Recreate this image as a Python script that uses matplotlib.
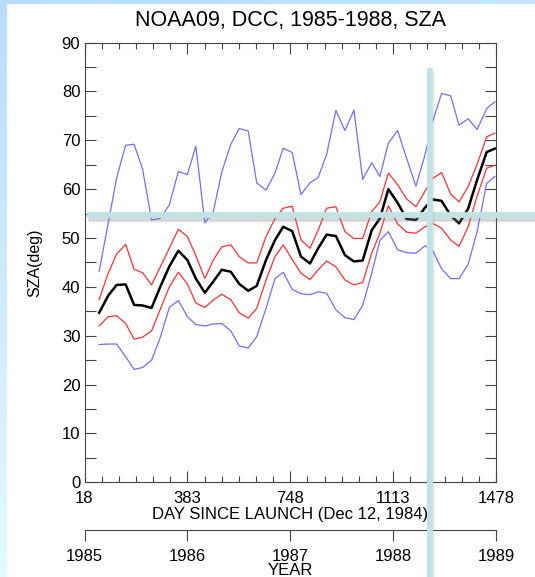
import numpy as np
import matplotlib
matplotlib.use("Agg")
import matplotlib.pyplot as plt
from matplotlib.ticker import AutoMinorLocator, MultipleLocator

plt.rcParams['font.family'] = ['Liberation Sans', 'DejaVu Sans']

# day since launch for each monthly point
days = [70, 102, 132, 164, 194, 224, 256, 286, 319, 351, 383, 413, 445, 475, 505,
        537, 567, 599, 629, 662, 694, 723, 755, 786, 818, 847, 877, 910, 942, 974,
        1005, 1037, 1066, 1096, 1129, 1161, 1194, 1226, 1253, 1285, 1317, 1347,
        1379, 1411, 1445, 1474]

# outer (blue) envelope, upper
blue_hi = [43.2, 53.0, 62.3, 69.0, 69.2, 64.1, 53.7, 54.0, 56.8, 63.6, 63.0, 68.8,
           53.1, 55.4, 63.5, 69.2, 72.4, 71.9, 61.3, 59.8, 63.3, 68.4, 67.5, 58.9,
           61.3, 62.4, 67.1, 76.1, 72.0, 76.2, 62.0, 65.4, 62.6, 69.4, 72.0, 66.3,
           60.6, 67.0, 73.8, 79.6, 79.1, 73.1, 74.4, 72.2, 76.5, 77.9]
# mean + std (red)
red_hi = [37.4, 42.8, 46.7, 48.7, 43.6, 42.9, 40.4, 44.0, 47.9, 51.8, 50.3, 46.4,
          41.7, 45.5, 48.2, 48.6, 46.2, 44.9, 44.9, 50.3, 54.0, 56.1, 56.5, 49.6,
          47.9, 51.6, 56.1, 56.4, 51.3, 49.9, 49.9, 55.4, 57.4, 63.3, 60.9, 58.0,
          56.4, 59.6, 62.2, 63.4, 59.0, 57.4, 60.5, 65.1, 70.7, 71.5]
# mean (black)
mean_sza = [34.7, 38.2, 40.4, 40.5, 36.3, 36.2, 35.7, 39.9, 44.2, 47.4, 45.5, 41.7,
            38.8, 41.1, 43.5, 43.1, 40.6, 39.2, 40.2, 45.5, 49.6, 52.3, 51.4, 46.2,
            44.8, 47.9, 50.7, 50.4, 46.5, 45.2, 45.4, 51.6, 54.0, 60.0, 57.2, 53.9,
            53.7, 56.2, 57.9, 57.6, 54.6, 53.0, 56.0, 61.9, 67.6, 68.3]
# mean - std (red)
red_lo = [32.0, 33.9, 34.1, 32.5, 29.3, 29.7, 31.0, 35.3, 40.0, 43.0, 40.6, 36.7,
          35.8, 37.3, 38.5, 37.4, 34.7, 33.6, 35.6, 41.4, 46.2, 48.6, 45.6, 42.8,
          41.5, 43.5, 45.3, 44.1, 41.4, 40.4, 40.9, 46.9, 51.0, 56.6, 52.9, 51.2,
          51.0, 52.3, 53.0, 52.0, 49.6, 48.3, 52.3, 58.6, 64.3, 64.9]
# outer (blue) envelope, lower
blue_lo = [28.2, 28.3, 28.3, 25.7, 23.1, 23.5, 25.0, 29.5, 35.8, 37.2, 33.9, 32.3,
           32.0, 32.4, 32.5, 31.0, 27.9, 27.5, 29.8, 35.6, 41.7, 43.0, 39.5, 38.6,
           38.4, 39.0, 38.7, 35.3, 33.7, 33.3, 36.2, 42.8, 49.5, 51.3, 47.6, 47.0,
           46.9, 48.4, 47.5, 43.7, 41.7, 41.7, 44.6, 51.3, 61.2, 62.6]

day_ticks = [18, 383, 748, 1113, 1478]
years = [1985, 1986, 1987, 1988, 1989]

W, H = 535, 577
fig = plt.figure(figsize=(W / 100, H / 100), dpi=100)
fig.patch.set_facecolor('white')

def rect(x0, y0, x1, y1):
    # pixel box (top-left origin) -> figure fraction
    return [x0 / W, 1 - y1 / H, (x1 - x0) / W, (y1 - y0) / H]

# slide background strips
bg = fig.add_axes([0, 0, 1, 1], zorder=-5)
bg.axis('off')
grad = np.linspace(0, 1, 256).reshape(-1, 1)
cmap = matplotlib.colors.LinearSegmentedColormap.from_list('bgc', ['#b9dcfd', '#e4faff'])
bg.imshow(grad, cmap=cmap, extent=[0, 7, H, 0], aspect='auto')
cmap2 = matplotlib.colors.LinearSegmentedColormap.from_list('t', ['#b9dcfd', '#c6e6ff'])
bg.imshow(np.linspace(0, 1, 256).reshape(1, -1), cmap=cmap2,
          extent=[0, W, 4, 0], aspect='auto')
bg.set_xlim(0, W)
bg.set_ylim(H, 0)

ax = fig.add_axes(rect(84.5, 42.6, 496, 482.3))
ax.plot(days, blue_hi, color='#6f6fff', lw=0.9)
ax.plot(days, red_hi, color='#ff3030', lw=0.9)
ax.plot(days, mean_sza, color='black', lw=1.8)
ax.plot(days, red_lo, color='#ff3030', lw=0.9)
ax.plot(days, blue_lo, color='#6f6fff', lw=0.9)

ax.set_xlim(18, 1478)
ax.set_ylim(0, 90)
ax.set_xticks(day_ticks)
ax.xaxis.set_minor_locator(AutoMinorLocator(6))
ax.yaxis.set_major_locator(MultipleLocator(10))
ax.yaxis.set_minor_locator(MultipleLocator(5))
ax.tick_params(which='both', direction='in', top=True, right=True,
               color='#444444', width=0.8, labelsize=12)
ax.tick_params(axis='x', which='major', length=8, pad=6.5)
ax.tick_params(axis='x', which='minor', length=4)
ax.tick_params(axis='y', which='both', length=8, pad=3)
for s in ax.spines.values():
    s.set_color('#444444')
    s.set_linewidth(0.8)
ax.set_xlabel('DAY SINCE LAUNCH (Dec 12, 1984)', fontsize=12, labelpad=0.5)
ax.set_ylabel('SZA(deg)', fontsize=11.5, labelpad=14)
ax.set_title('NOAA09, DCC, 1985-1988, SZA', fontsize=15.5, pad=12)

# year axis below
ax2 = fig.add_axes(rect(84.5, 530, 496, 532))
ax2.set_xlim(1985, 1989)
ax2.set_xticks(years)
ax2.set_yticks([])
for k in ['top', 'left', 'right']:
    ax2.spines[k].set_visible(False)
ax2.patch.set_alpha(0)
ax2.spines['bottom'].set_position(('axes', 1.0))
ax2.spines['bottom'].set_color('#444444')
ax2.spines['bottom'].set_linewidth(0.8)
ax2.tick_params(axis='x', direction='out', length=8, width=0.8, color='#444444',
                labelsize=12, pad=6)
ax2.set_xlabel('YEAR', fontsize=12, labelpad=-1)

# crosshair overlay
ov = fig.add_axes([0, 0, 1, 1], zorder=10)
ov.set_xlim(0, W)
ov.set_ylim(H, 0)
ov.axis('off')
ov.patch.set_alpha(0)
ov.plot([88, W], [218.5, 218.5], color='#808080', lw=2.5, alpha=0.3, solid_capstyle='butt')
ov.plot([88, W], [220.5, 220.5], color='#808080', lw=2, alpha=0.12, solid_capstyle='butt')
ov.plot([87, W], [214.5, 214.5], color='#bfe2e3', lw=4.2, solid_capstyle='butt')
ov.plot([433.2, 433.2], [70, H], color='#808080', lw=1.8, alpha=0.15, solid_capstyle='butt')
ov.plot([429.7, 429.7], [68, H], color='#bfe2e3', lw=4.2, solid_capstyle='butt')

fig.savefig('out.png', dpi=100)
